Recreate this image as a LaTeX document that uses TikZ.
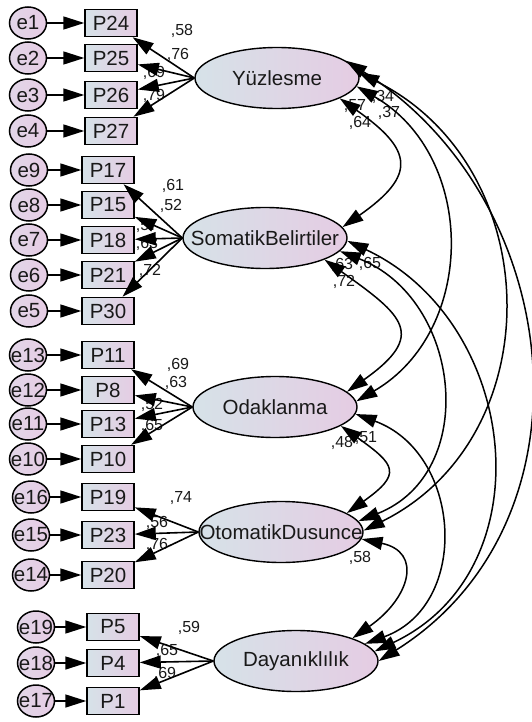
\documentclass[tikz,border=0pt]{standalone}
\usepackage{fontspec}
\setmainfont{Liberation Sans}
\usetikzlibrary{shapes.geometric,arrows.meta}
\definecolor{lb}{RGB}{214,226,232}
\definecolor{lp}{RGB}{229,204,227}
\definecolor{cl}{RGB}{226,214,232}
\definecolor{cr}{RGB}{230,204,228}
\definecolor{txt}{RGB}{25,25,25}
\begin{document}
\begin{tikzpicture}[x=1pt,y=-1pt,
  lat/.style={ellipse, draw, line width=1.4pt, minimum width=164pt, minimum height=61pt, inner sep=0pt, left color=lb, right color=lp, text=txt, font=\fontsize{20.5}{21}\selectfont},
  obs/.style={rectangle, draw, line width=1.5pt, minimum width=52pt, minimum height=27pt, inner sep=0pt, left color=lb, right color=lp, text=txt, font=\fontsize{20.5}{21}\selectfont},
  err/.style={ellipse, draw, line width=1.5pt, minimum width=37pt, minimum height=32pt, inner sep=0pt, left color=cl, right color=cr, text=txt, font=\fontsize{20.5}{21}\selectfont},
  arr/.style={-{Triangle[length=21pt,width=13pt]}, line width=1.6pt},
  cov/.style={{Triangle[length=21pt,width=13pt]}-{Triangle[length=21pt,width=13pt]}, line width=1.5pt},
  coef/.style={inner sep=0pt, text=txt, font=\fontsize{16}{16}\selectfont}
]
\useasboundingbox (0,0) rectangle (532,722);
% coefficient labels (drawn first, arrows overlap them)
\node[coef] (c1) at (182,31) {,58};
\node[coef] (c2) at (178,55) {,76};
\node[coef] (c3) at (154,73) {,69};
\node[coef] (c4) at (154,96) {,79};
\node[coef] (c5) at (173,186) {,61};
\node[coef] (c6) at (171,206) {,52};
\node[coef] (c7) at (147,226) {,57};
\node[coef] (c8) at (147,244) {,63};
\node[coef] (c9) at (150,271) {,72};
\node[coef] (c10) at (178,365) {,69};
\node[coef] (c11) at (176,383) {,63};
\node[coef] (c12) at (152,405) {,52};
\node[coef] (c13) at (152,426) {,65};
\node[coef] (c14) at (181,498) {,74};
\node[coef] (c15) at (157,523) {,56};
\node[coef] (c16) at (157,545) {,76};
\node[coef] (c17) at (189,628) {,59};
\node[coef] (c18) at (167,651) {,65};
\node[coef] (c19) at (165,674) {,69};
\node[coef] (k1) at (355,106) {,57};
\node[coef] (k2) at (383,97) {,34};
\node[coef] (k3) at (389,113) {,37};
\node[coef] (k4) at (360,123) {,64};
\node[coef] (k5) at (342,265) {,63};
\node[coef] (k6) at (370,264) {,65};
\node[coef] (k7) at (344,282) {,72};
\node[coef] (k8) at (342,443) {,48};
\node[coef] (k9) at (366,438) {,51};
\node[coef] (k10) at (360,558) {,58};
% latent variables
\node[lat] (Y) at (277,78) {\makebox[0pt]{Yüzlesme}};
\node[lat] (S) at (265,238) {\makebox[0pt]{SomatikBelirtiler}};
\node[lat] (O) at (275,407) {\makebox[0pt]{Odaklanma}};
\node[lat] (T) at (281,532) {\makebox[0pt]{OtomatikDusunce}};
\node[lat] (D) at (296,661) {\makebox[0pt]{Dayanıklılık}};
% observed
\node[obs] (P24) at (111,23) {P24};
\node[obs] (P25) at (111,58) {P25};
\node[obs] (P26) at (111,95) {P26};
\node[obs] (P27) at (111,131) {P27};
\node[obs] (P17) at (108,170) {P17};
\node[obs] (P15) at (108,205) {P15};
\node[obs] (P18) at (108,240) {P18};
\node[obs] (P21) at (108,275) {P21};
\node[obs] (P30) at (108,311) {P30};
\node[obs] (P11) at (108,355) {P11};
\node[obs] (P8) at (108,390) {P8};
\node[obs] (P13) at (108,424) {P13};
\node[obs] (P10) at (108,459) {P10};
\node[obs] (P19) at (108,497) {P19};
\node[obs] (P23) at (108,535) {P23};
\node[obs] (P20) at (108,575) {P20};
\node[obs] (P5) at (113,627) {P5};
\node[obs] (P4) at (113,663) {P4};
\node[obs] (P1) at (113,701) {P1};
% errors
\node[err] (e1) at (28,23) {\makebox[0pt]{e1}};
\node[err] (e2) at (28,58) {\makebox[0pt]{e2}};
\node[err] (e3) at (28,95) {\makebox[0pt]{e3}};
\node[err] (e4) at (28,131) {\makebox[0pt]{e4}};
\node[err] (e9) at (29,170) {\makebox[0pt]{e9}};
\node[err] (e8) at (29,205) {\makebox[0pt]{e8}};
\node[err] (e7) at (29,240) {\makebox[0pt]{e7}};
\node[err] (e6) at (29,275) {\makebox[0pt]{e6}};
\node[err] (e5) at (29,311) {\makebox[0pt]{e5}};
\node[err] (e13) at (28,355) {\makebox[0pt]{e13}};
\node[err] (e12) at (28,390) {\makebox[0pt]{e12}};
\node[err] (e11) at (28,424) {\makebox[0pt]{e11}};
\node[err] (e10) at (28,459) {\makebox[0pt]{e10}};
\node[err] (e16) at (31,497) {\makebox[0pt]{e16}};
\node[err] (e15) at (31,535) {\makebox[0pt]{e15}};
\node[err] (e14) at (31,575) {\makebox[0pt]{e14}};
\node[err] (e19) at (36,627) {\makebox[0pt]{e19}};
\node[err] (e18) at (36,663) {\makebox[0pt]{e18}};
\node[err] (e17) at (36,701) {\makebox[0pt]{e17}};
% error arrows
\foreach \e/\p in {e1/P24,e2/P25,e3/P26,e4/P27,e9/P17,e8/P15,e7/P18,e6/P21,e5/P30,e13/P11,e12/P8,e11/P13,e10/P10,e16/P19,e15/P23,e14/P20,e19/P5,e18/P4,e17/P1}
  \draw[arr] (\e) -- (\p);
% loadings
\foreach \l/\p in {Y/P24,Y/P25,Y/P26,Y/P27,S/P17,S/P15,S/P18,S/P21,S/P30,O/P11,O/P8,O/P13,O/P10,T/P19,T/P23,T/P20,D/P5,D/P4,D/P1}
  \draw[arr] (\l.west) -- (\p);
% covariances
\draw[cov] (Y.-18) .. controls (413,150) and (417,175) .. (S.8);
\draw[cov] (S.-20) .. controls (404,316) and (427,335) .. (O.12);
\draw[cov] (O.-16) .. controls (396,465) and (402,474) .. (T.16);
\draw[cov] (T.-5) .. controls (423,552) and (410,598) .. (D.22);
\draw[cov] (Y.-6) .. controls (477,156) and (477,331) .. (O.4);
\draw[cov] (S.-10) .. controls (462,299) and (480,473) .. (T.8);
\draw[cov] (O.-5) .. controls (462,453) and (471,605) .. (D.14);
\draw[cov] (Y.4) .. controls (547,167) and (552,437) .. (T.1);
\draw[cov] (S.-2) .. controls (520,322) and (547,570) .. (D.7);
\draw[cov] (Y.14) .. controls (567,200) and (600,522) .. (D.0);
\end{tikzpicture}
\end{document}
